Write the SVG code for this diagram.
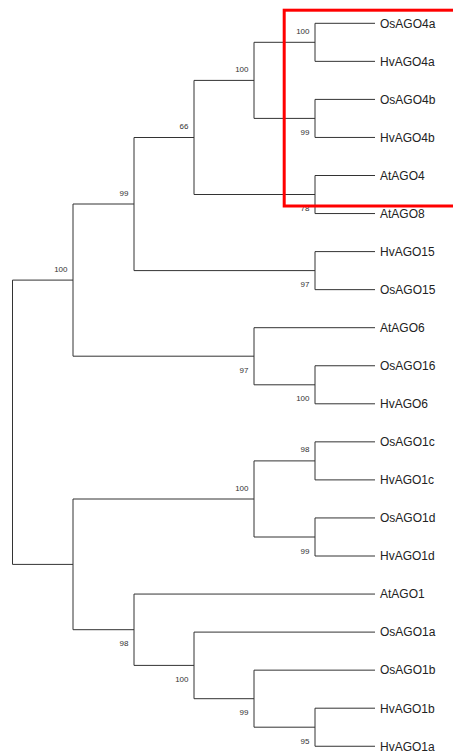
<svg xmlns="http://www.w3.org/2000/svg" width="453" height="753" viewBox="0 0 453 753">
<style>
.br{fill:none;stroke:#333;stroke-width:1}
.leaf{font-family:"Liberation Sans",Arial,sans-serif;font-size:12px;fill:#222}
.bs{font-family:"Liberation Sans",Arial,sans-serif;font-size:8px;fill:#333;text-anchor:end}
</style>
<rect width="453" height="753" fill="#fff"/>
<g id="connectors" class="br">
<path d="M12.5,280.1V564.4M12.5,280.1H73M12.5,564.4H73"/>
<path d="M73,204V356.2M73,204H134M73,356.2H254"/>
<path d="M134,137.5V270.6M134,137.5H194M134,270.6H315"/>
<path d="M194,80.4V194.5M194,80.4H254M194,194.5H315"/>
<path d="M254,42.3V118.4M254,42.3H315M254,118.4H315"/>
<path d="M315,23.3V61.35M315,23.3H375M315,61.35H375"/>
<path d="M315,99.4V137.45M315,99.4H375M315,137.45H375"/>
<path d="M315,175.5V213.55M315,175.5H375M315,213.55H375"/>
<path d="M315,251.6V289.65M315,251.6H375M315,289.65H375"/>
<path d="M254,327.7V384.8M254,327.7H375M254,384.8H315"/>
<path d="M315,365.75V403.8M315,365.75H375M315,403.8H375"/>
<path d="M73,499V629.7M73,499H254M73,629.7H134"/>
<path d="M254,460.9V537M254,460.9H315M254,537H315"/>
<path d="M315,441.85V479.9M315,441.85H375M315,479.9H375"/>
<path d="M315,517.95V556M315,517.95H375M315,556H375"/>
<path d="M134,594.05V665.4M134,594.05H375M134,665.4H194"/>
<path d="M194,632.1V698.7M194,632.1H375M194,698.7H254"/>
<path d="M254,670.15V727.2M254,670.15H375M254,727.2H315"/>
<path d="M315,708.2V746.25M315,708.2H375M315,746.25H375"/>
</g>
<g id="n_root"/>
<g id="n_A"><text class="bs" x="67.5" y="271.6">100</text></g>
<g id="n_B"><text class="bs" x="128.5" y="195.5">99</text></g>
<g id="n_66"><text class="bs" x="188.5" y="129">66</text></g>
<g id="n_4ab"><text class="bs" x="248.5" y="71.9">100</text></g>
<g id="n_4a"><text class="bs" x="309.5" y="33.8">100</text></g>
<g id="n_4b"><text class="bs" x="309.5" y="134.9">99</text></g>
<g id="n_48"><text class="bs" x="309.5" y="211">78</text></g>
<g id="n_15"><text class="bs" x="309.5" y="287.1">97</text></g>
<g id="n_6"><text class="bs" x="248.5" y="372.7">97</text></g>
<g id="n_16"><text class="bs" x="309.5" y="401.3">100</text></g>
<g id="n_C"/>
<g id="n_1cd"><text class="bs" x="248.5" y="490.5">100</text></g>
<g id="n_1c"><text class="bs" x="309.5" y="452.4">98</text></g>
<g id="n_1d"><text class="bs" x="309.5" y="553.5">99</text></g>
<g id="n_98"><text class="bs" x="128.5" y="646.2">98</text></g>
<g id="n_100b"><text class="bs" x="188.5" y="681.9">100</text></g>
<g id="n_99"><text class="bs" x="248.5" y="715.2">99</text></g>
<g id="n_1ab"><text class="bs" x="309.5" y="743.7">95</text></g>
<g id="leaf_OsAGO4a"><text class="leaf" x="380" y="27.6">OsAGO4a</text></g>
<g id="leaf_HvAGO4a"><text class="leaf" x="380" y="65.6">HvAGO4a</text></g>
<g id="leaf_OsAGO4b"><text class="leaf" x="380" y="103.7">OsAGO4b</text></g>
<g id="leaf_HvAGO4b"><text class="leaf" x="380" y="141.7">HvAGO4b</text></g>
<g id="leaf_AtAGO4"><text class="leaf" x="380" y="179.8">AtAGO4</text></g>
<g id="leaf_AtAGO8"><text class="leaf" x="380" y="217.8">AtAGO8</text></g>
<g id="leaf_HvAGO15"><text class="leaf" x="380" y="255.9">HvAGO15</text></g>
<g id="leaf_OsAGO15"><text class="leaf" x="380" y="293.9">OsAGO15</text></g>
<g id="leaf_AtAGO6"><text class="leaf" x="380" y="332">AtAGO6</text></g>
<g id="leaf_OsAGO16"><text class="leaf" x="380" y="370">OsAGO16</text></g>
<g id="leaf_HvAGO6"><text class="leaf" x="380" y="408.1">HvAGO6</text></g>
<g id="leaf_OsAGO1c"><text class="leaf" x="380" y="446.1">OsAGO1c</text></g>
<g id="leaf_HvAGO1c"><text class="leaf" x="380" y="484.2">HvAGO1c</text></g>
<g id="leaf_OsAGO1d"><text class="leaf" x="380" y="522.2">OsAGO1d</text></g>
<g id="leaf_HvAGO1d"><text class="leaf" x="380" y="560.3">HvAGO1d</text></g>
<g id="leaf_AtAGO1"><text class="leaf" x="380" y="598.3">AtAGO1</text></g>
<g id="leaf_OsAGO1a"><text class="leaf" x="380" y="636.4">OsAGO1a</text></g>
<g id="leaf_OsAGO1b"><text class="leaf" x="380" y="674.4">OsAGO1b</text></g>
<g id="leaf_HvAGO1b"><text class="leaf" x="380" y="712.5">HvAGO1b</text></g>
<g id="leaf_HvAGO1a"><text class="leaf" x="380" y="750.5">HvAGO1a</text></g>
<rect id="highlight" x="284.2" y="10.2" width="200" height="195.8" fill="none" stroke="#f00" stroke-width="3"/>
</svg>
